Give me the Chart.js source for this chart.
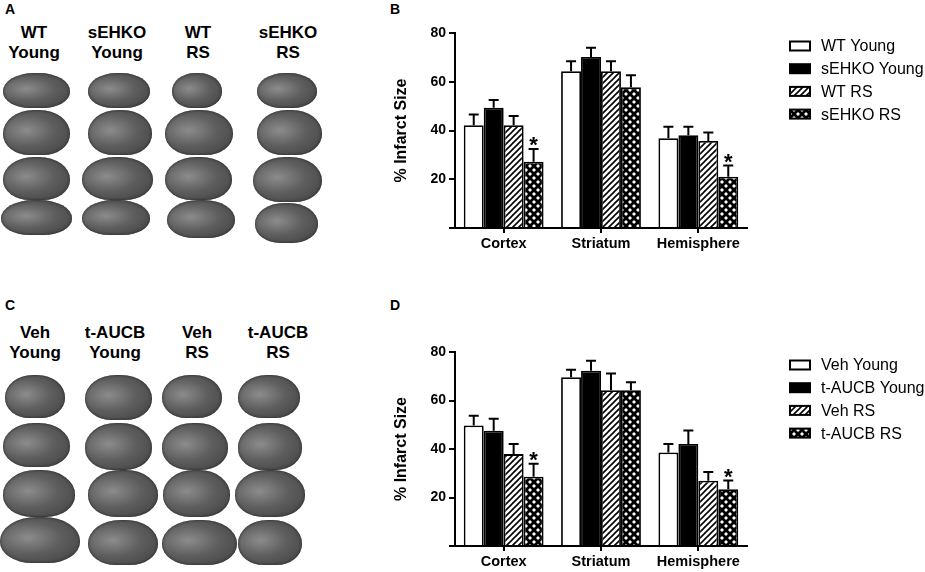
<!DOCTYPE html>
<html>
<head>
<meta charset="utf-8">
<script src="https://cdn.jsdelivr.net/npm/chart.js@4.4.1/dist/chart.umd.min.js"></script>
<style>
  html, body { margin: 0; padding: 0; background: #fff; }
  body { width: 925px; height: 572px; position: relative; overflow: hidden;
         font-family: "Liberation Sans", Arial, sans-serif; color: #000; }
  .lbl { position: absolute; font-weight: bold; font-size: 14px; }
  .head { position: absolute; font-weight: bold; font-size: 17px; line-height: 20px;
          text-align: center; width: 90px; }
  .slice { position: absolute; border-radius: 46% 46% 40% 40% / 52% 52% 46% 46%;
           background: radial-gradient(ellipse at 35% 45%, #8c8c8c 0%, #5e5e5e 45%, #3e3e3e 100%);
           box-shadow: inset 0 0 3px #222; }
  .box { position: absolute; }
</style>
</head>
<body>

<div class="lbl" style="left:5px;top:1px;">A</div>
<div class="lbl" style="left:390px;top:1px;">B</div>
<div class="lbl" style="left:5px;top:297px;">C</div>
<div class="lbl" style="left:390px;top:297px;">D</div>

<div id="slices"></div>

<div class="box" style="left:380px;top:0px;width:545px;height:290px;"><canvas id="chartB"></canvas></div>
<div class="box" style="left:380px;top:300px;width:545px;height:272px;"><canvas id="chartD"></canvas></div>

<script>
// категории и значения (% Infarct Size)
const categories = ['Cortex', 'Striatum', 'Hemisphere'];

// Панель B
const labelsB = ['WT Young', 'sEHKO Young', 'WT RS', 'sEHKO RS'];
const wtYoung = [42.2, 64.3, 36.8];
const wtYoungErr = [4.4, 4.1, 4.7];
const sehkoYoung = [49.3, 70.2, 38.1];
const sehkoYoungErr = [3.2, 3.8, 3.4];
const wtRS = [42.2, 64.3, 35.7];
const wtRSErr = [3.7, 4.1, 3.5];
const sehkoRS = [27.2, 57.7, 21.0];
const sehkoRSErr = [5.2, 5.0, 4.6];
const starsB = [true, false, true];

// Панель D
const labelsD = ['Veh Young', 't-AUCB Young', 'Veh RS', 't-AUCB RS'];
const vehYoung = [49.7, 69.6, 38.6];
const vehYoungErr = [4.0, 3.1, 3.5];
const taucbYoung = [47.5, 72.3, 42.1];
const taucbYoungErr = [5.0, 4.1, 5.5];
const vehRS = [37.9, 64.2, 26.9];
const vehRSErr = [4.2, 6.9, 3.6];
const taucbRS = [28.6, 64.2, 23.4];
const taucbRSErr = [5.3, 3.3, 3.6];
const starsD = [true, false, true];

const yTicks = [20, 40, 60, 80];

// Заголовки колонок для панелей A и C
const headsA = [['WT', 'Young'], ['sEHKO', 'Young'], ['WT', 'RS'], ['sEHKO', 'RS']];
const headsC = [['Veh', 'Young'], ['t-AUCB', 'Young'], ['Veh', 'RS'], ['t-AUCB', 'RS']];

const FONT = '"Liberation Sans", Arial, sans-serif';

// шаблоны заливки
function hatchPattern() {
    const c = document.createElement('canvas');
    c.width = 6; c.height = 6;
    const g = c.getContext('2d');
    g.fillStyle = '#fff';
    g.fillRect(0, 0, 6, 6);
    g.strokeStyle = '#000';
    g.lineWidth = 1.6;
    g.beginPath();
    g.moveTo(0, 6); g.lineTo(6, 0);
    g.moveTo(-3, 3); g.lineTo(3, -3);
    g.moveTo(3, 9); g.lineTo(9, 3);
    g.stroke();
    return g.createPattern(c, 'repeat');
}

function crossPattern() {
    const c = document.createElement('canvas');
    c.width = 8; c.height = 8;
    const g = c.getContext('2d');
    g.fillStyle = '#000';
    g.fillRect(0, 0, 8, 8);
    g.fillStyle = '#fff';
    [[2, 2], [6, 6]].forEach(([x, y]) => {
        g.beginPath();
        g.moveTo(x, y - 2); g.lineTo(x + 2, y); g.lineTo(x, y + 2); g.lineTo(x - 2, y);
        g.closePath();
        g.fill();
    });
    return g.createPattern(c, 'repeat');
}

// головы колонок и срезы мозга (декоративно)
function drawPanelHeads(heads, centers, top) {
    heads.forEach((h, i) => {
        const d = document.createElement('div');
        d.className = 'head';
        d.style.left = (centers[i] - 45) + 'px';
        d.style.top = top + 'px';
        d.innerHTML = h[0] + '<br>' + h[1];
        document.body.appendChild(d);
    });
}

function drawSlices(rects) {
    const host = document.getElementById('slices');
    rects.forEach(r => {
        const d = document.createElement('div');
        d.className = 'slice';
        d.style.left = r[0] + 'px';
        d.style.top = r[1] + 'px';
        d.style.width = (r[2] - r[0]) + 'px';
        d.style.height = (r[3] - r[1]) + 'px';
        host.appendChild(d);
    });
}

drawPanelHeads(headsA, [34, 117, 198, 288], 23);
drawPanelHeads(headsC, [35, 115, 197, 278], 323);

drawSlices([
    [3, 73, 70, 108], [88, 73, 150, 108], [172, 73, 222, 108], [257, 73, 317, 108],
    [3, 110, 70, 155], [88, 110, 152, 155], [165, 110, 233, 155], [257, 110, 322, 155],
    [3, 157, 70, 200], [82, 157, 153, 200], [165, 157, 232, 200], [253, 157, 322, 202],
    [1, 200, 72, 235], [82, 200, 150, 235], [167, 200, 235, 238], [255, 203, 318, 243],
    [5, 375, 65, 418], [85, 375, 152, 420], [162, 375, 222, 418], [238, 375, 300, 418],
    [3, 423, 70, 467], [85, 423, 152, 470], [162, 423, 228, 470], [238, 423, 302, 470],
    [3, 470, 75, 517], [88, 470, 158, 517], [163, 470, 230, 517], [235, 470, 305, 517],
    [0, 517, 80, 563], [88, 520, 158, 565], [162, 520, 237, 565], [238, 520, 302, 565]
]);

// планки погрешностей и звёздочки
const errorBarPlugin = {
    id: 'errorBars',
    afterDatasetsDraw(chart) {
        const ctx = chart.ctx;
        const yScale = chart.scales.y;
        ctx.save();
        ctx.strokeStyle = '#000';
        ctx.fillStyle = '#000';
        ctx.lineWidth = 2;
        chart.data.datasets.forEach((ds, di) => {
            const meta = chart.getDatasetMeta(di);
            meta.data.forEach((bar, i) => {
                const top = yScale.getPixelForValue(ds.data[i] + ds.errors[i]);
                ctx.beginPath();
                ctx.moveTo(bar.x, bar.y);
                ctx.lineTo(bar.x, top);
                ctx.moveTo(bar.x - 5, top);
                ctx.lineTo(bar.x + 5, top);
                ctx.stroke();
                if (ds.stars && ds.stars[i]) {
                    ctx.font = 'bold 22px ' + FONT;
                    ctx.textAlign = 'center';
                    ctx.textBaseline = 'alphabetic';
                    ctx.fillText('*', bar.x, top + 3);
                }
            });
        });
        ctx.restore();
    }
};

// легенда справа от графика
const sideLegendPlugin = {
    id: 'sideLegend',
    afterDraw(chart) {
        const ctx = chart.ctx;
        const area = chart.chartArea;
        ctx.save();
        chart.data.datasets.forEach((ds, i) => {
            const y = area.top + 13 + i * 22.7;
            const x = area.right + 43;
            ctx.fillStyle = ds.backgroundColor;
            ctx.fillRect(x, y - 4.5, 20, 9);
            ctx.strokeStyle = '#000';
            ctx.lineWidth = 2;
            ctx.strokeRect(x, y - 4.5, 20, 9);
            ctx.fillStyle = '#000';
            ctx.font = '16px ' + FONT;
            ctx.textAlign = 'left';
            ctx.textBaseline = 'middle';
            ctx.fillText(ds.label, area.right + 74, y + 1);
        });
        ctx.restore();
    }
};

function makeChart(id, labels, series, errors, stars, padTop, xAxisHeight) {
    const fills = ['#ffffff', '#000000', hatchPattern(), crossPattern()];
    return new Chart(document.getElementById(id), {
        type: 'bar',
        data: {
            labels: categories,
            datasets: series.map((s, i) => ({
                label: labels[i],
                data: s,
                errors: errors[i],
                stars: i === 3 ? stars : null,
                backgroundColor: fills[i],
                borderColor: '#000',
                borderWidth: 1.8,
                categoryPercentage: 0.82,
                barPercentage: 1.0
            }))
        },
        options: {
            responsive: true,
            maintainAspectRatio: false,
            animation: false,
            layout: { padding: { top: padTop, right: 178, left: 0, bottom: 0 } },
            plugins: {
                legend: { display: false },
                tooltip: { enabled: false }
            },
            scales: {
                x: {
                    offset: true,
                    grid: { display: true, offset: false, drawOnChartArea: false, drawTicks: true,
                            tickLength: 5, color: '#000', lineWidth: 2 },
                    border: { display: true, color: '#000', width: 2 },
                    ticks: { color: '#000', padding: 2, font: { family: FONT, size: 14.5, weight: 'bold' } },
                    afterFit(scale) { scale.height = xAxisHeight; }
                },
                y: {
                    min: 0,
                    max: 80,
                    afterBuildTicks(scale) {
                        scale.ticks = [0].concat(yTicks).map(v => ({ value: v }));
                    },
                    grid: { display: true, drawOnChartArea: false, drawTicks: true,
                            tickLength: 6, color: '#000', lineWidth: 2 },
                    border: { display: true, color: '#000', width: 2 },
                    ticks: {
                        color: '#000',
                        padding: 3,
                        font: { family: FONT, size: 14, weight: 'bold' },
                        callback: v => (v === 0 ? '' : v)
                    },
                    title: {
                        display: true,
                        text: '% Infarct Size',
                        color: '#000',
                        font: { family: FONT, size: 16, weight: 'bold' },
                        padding: { top: 12, bottom: 0 }
                    },
                    afterFit(scale) { scale.width = 75; }
                }
            }
        },
        plugins: [errorBarPlugin, sideLegendPlugin]
    });
}

makeChart('chartB', labelsB,
    [wtYoung, sehkoYoung, wtRS, sehkoRS],
    [wtYoungErr, sehkoYoungErr, wtRSErr, sehkoRSErr],
    starsB, 33, 62);

makeChart('chartD', labelsD,
    [vehYoung, taucbYoung, vehRS, taucbRS],
    [vehYoungErr, taucbYoungErr, vehRSErr, taucbRSErr],
    starsD, 52, 26);
</script>
</body>
</html>
